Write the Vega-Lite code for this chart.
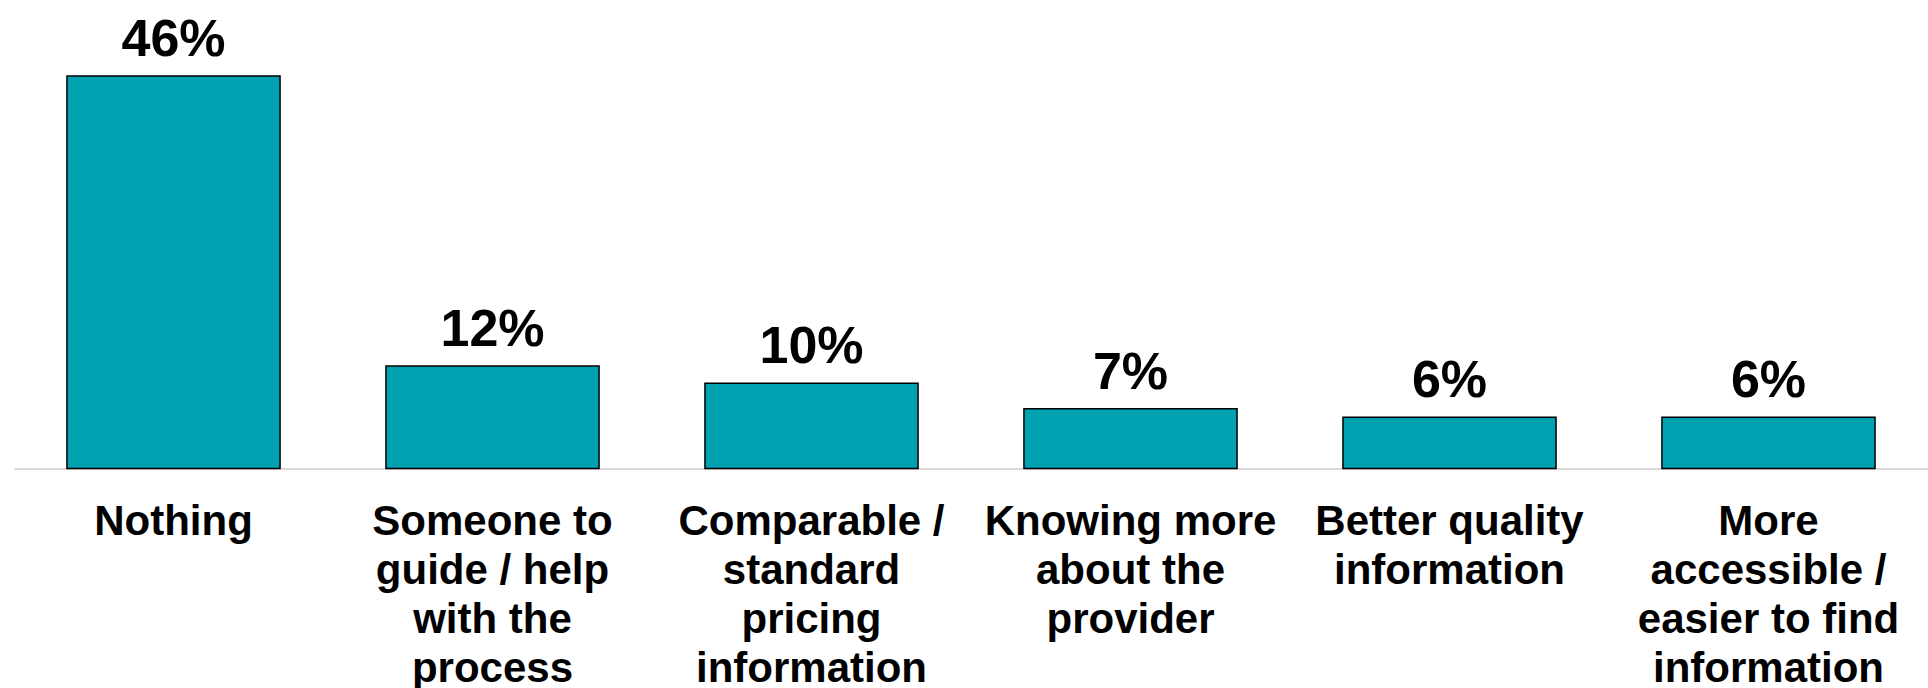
{
  "$schema": "https://vega.github.io/schema/vega-lite/v6.json",
  "autosize": {"type": "none"},
  "width": 1914,
  "height": 392.5,
  "padding": {"left": 14, "top": 76, "right": 0, "bottom": 219.5},
  "background": "white",
  "config": {"view": {"stroke": null}, "font": "Liberation Sans"},
  "data": {
    "values": [
      {"category": "Nothing", "value": 0.46},
      {"category": "Someone to guide / help with the process", "value": 0.12},
      {"category": "Comparable / standard pricing information", "value": 0.10},
      {"category": "Knowing more about the provider", "value": 0.07},
      {"category": "Better quality information", "value": 0.06},
      {"category": "More accessible / easier to find information", "value": 0.06}
    ]
  },
  "encoding": {
    "x": {
      "field": "category",
      "type": "nominal",
      "sort": null,
      "scale": {"paddingInner": 0.332, "paddingOuter": 0.166},
      "axis": {
        "title": null,
        "ticks": false,
        "grid": false,
        "labelAngle": 0,
        "labelPadding": 66,
        "labelBaseline": "alphabetic",
        "labelFont": "Liberation Sans",
        "labelFontSize": 42,
        "labelFontWeight": "bold",
        "labelColor": "black",
        "labelLineHeight": 49,
        "labelLimit": 0,
        "domainColor": "#d9d9d9",
        "domainWidth": 2,
        "labelExpr": "{'Nothing':['Nothing'],'Someone to guide / help with the process':['Someone to','guide / help','with the','process'],'Comparable / standard pricing information':['Comparable /','standard','pricing','information'],'Knowing more about the provider':['Knowing more','about the','provider'],'Better quality information':['Better quality','information'],'More accessible / easier to find information':['More','accessible /','easier to find','information']}[datum.label]"
      }
    },
    "y": {
      "field": "value",
      "type": "quantitative",
      "scale": {"domain": [0, 0.46], "nice": false, "zero": true},
      "axis": null
    }
  },
  "layer": [
    {
      "mark": {"type": "bar", "color": "#00A1B0", "stroke": "black", "strokeWidth": 1.5}
    },
    {
      "mark": {
        "type": "text",
        "baseline": "alphabetic",
        "align": "center",
        "dy": -20,
        "font": "Liberation Sans",
        "fontSize": 52,
        "fontWeight": "bold",
        "color": "black"
      },
      "encoding": {
        "text": {"field": "value", "type": "quantitative", "format": ".0%"}
      }
    }
  ]
}
